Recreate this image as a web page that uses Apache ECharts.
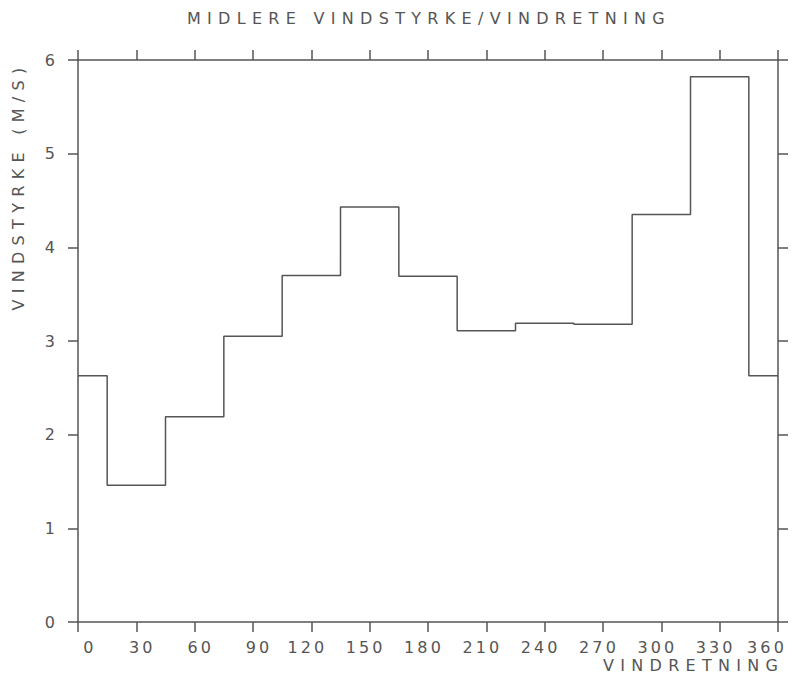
<!DOCTYPE html>
<html>
<head>
<meta charset="utf-8">
<script src="https://cdn.jsdelivr.net/npm/echarts@6/dist/echarts.min.js"></script>
<style>
  html, body { margin: 0; padding: 0; background: #fff; }
  #chart { width: 801px; height: 680px; }
</style>
</head>
<body>
<div id="chart"></div>
<script>
// Wind direction (degrees, sector centres) and mean wind speed (m/s)
const directions = [0, 30, 60, 90, 120, 150, 180, 210, 240, 270, 300, 330, 360];
const meanSpeed  = [2.63, 1.46, 2.19, 3.05, 3.70, 4.43, 3.69, 3.11, 3.19, 3.18, 4.35, 5.82, 2.63];
const xTicks = [0, 360, 30];   // min, max, step
const yTicks = [0, 6, 1];      // min, max, step

const titleText = 'MIDLERE VINDSTYRKE/VINDRETNING';
const xName = 'VINDRETNING';
const yName = 'VINDSTYRKE (M/S)';

const ink = '#555';
const font = '"DejaVu Sans", sans-serif';
const fs = 16;

const chart = echarts.init(document.getElementById('chart'), null, { renderer: 'svg' });

const axisCommon = {
  type: 'value',
  axisLine: { show: true, onZero: false, lineStyle: { color: ink, width: 1.5 } },
  axisTick: { show: true, inside: false, length: 10, lineStyle: { color: ink, width: 1.5 } },
  splitLine: { show: false },
  minorTick: { show: false }
};

// wide plotter-style lettering
function spaceLetters() {
  document.querySelectorAll('#chart svg text').forEach(t => {
    const s = t.textContent || '';
    t.style.letterSpacing = s.length > 3 ? '6.3px' : '3.1px';
  });
}
chart.on('finished', spaceLetters);

const labelStyle = { color: ink, fontFamily: font, fontSize: fs };
const xRich = {
  d1: Object.assign({ padding: [0, 0, 0, 24] }, labelStyle),
  d2: Object.assign({ padding: [0, 0, 0, 12] }, labelStyle),
  d3: Object.assign({ padding: [0, 8, 0, 0] }, labelStyle),
  end: Object.assign({ padding: [0, 22, 0, 0] }, labelStyle)
};

chart.setOption({
  animation: false,
  backgroundColor: '#fff',
  grid: { left: 78, right: 23, top: 60, bottom: 58, outerBoundsMode: 'none' },
  xAxis: [
    Object.assign({}, axisCommon, {
      position: 'bottom', min: xTicks[0], max: xTicks[1], interval: xTicks[2],
      axisLabel: {
        show: true, margin: 17, color: ink, fontFamily: font, fontSize: fs,
        formatter: v => {
          const s = String(v);
          const k = v === xTicks[1] ? 'end' : (s.length === 1 ? 'd1' : s.length === 2 ? 'd2' : 'd3');
          return '{' + k + '|' + s + '}';
        },
        rich: xRich
      }
    }),
    Object.assign({}, axisCommon, {
      position: 'top', min: xTicks[0], max: xTicks[1], interval: xTicks[2],
      axisLabel: { show: false }
    })
  ],
  yAxis: [
    Object.assign({}, axisCommon, {
      position: 'left', min: yTicks[0], max: yTicks[1], interval: yTicks[2],
      axisLabel: { show: true, margin: 20, color: ink, fontFamily: font, fontSize: fs }
    }),
    Object.assign({}, axisCommon, {
      position: 'right', min: yTicks[0], max: yTicks[1], interval: yTicks[2],
      axisLabel: { show: false }
    })
  ],
  series: [{
    type: 'line',
    step: 'middle',
    xAxisIndex: 0,
    yAxisIndex: 0,
    symbol: 'none',
    lineStyle: { color: ink, width: 1.5 },
    data: directions.map((d, i) => [d, meanSpeed[i]])
  }],
  graphic: [
    {
      type: 'text', x: 187, y: 18,
      style: { text: titleText, fill: ink, font: fs + 'px ' + font, textAlign: 'left', textVerticalAlign: 'middle' }
    },
    {
      type: 'text', x: 603, y: 665,
      style: { text: xName, fill: ink, font: fs + 'px ' + font, textAlign: 'left', textVerticalAlign: 'middle' }
    },
    {
      type: 'text', x: 18, y: 186, rotation: Math.PI / 2,
      style: { text: yName, fill: ink, font: fs + 'px ' + font, textAlign: 'center', textVerticalAlign: 'middle' }
    }
  ]
});
spaceLetters();
</script>
</body>
</html>
